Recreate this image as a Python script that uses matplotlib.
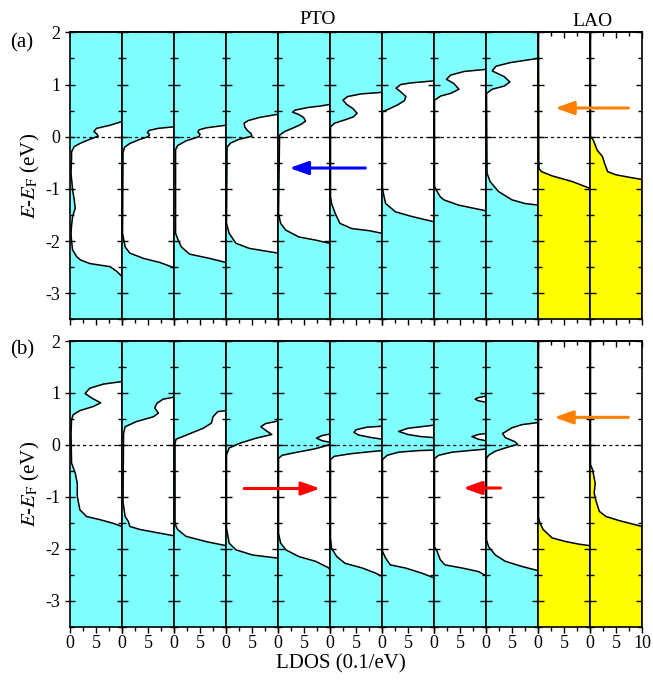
import matplotlib
matplotlib.use('Agg')
import matplotlib.pyplot as plt
from matplotlib.patches import ConnectionPatch
from matplotlib.ticker import MultipleLocator

plt.rcParams['font.family'] = 'Liberation Serif'
plt.rcParams['mathtext.fontset'] = 'stix'
plt.rcParams['axes.unicode_minus'] = False

# ---- LDOS curves: energy (eV) and LDOS (0.1/eV), clipped at 10 ----
# row (a)
a0_E = [-3.5, -2.68, -2.58, -2.49, -2.43, -2.36, -2.3, -2.17, -2.0, -1.85, -1.7, -1.53, -1.37, -1.2, -1.02, -0.7, -0.4,
        -0.29, -0.19, -0.13, -0.05, 0.01, 0.05, 0.1, 0.16, 0.22, 0.29, 2.0]
a0_x = [10, 10, 9.0, 7.7, 3.8, 2.0, 1.3, 0.5, 0.3, 0.2, 0.3, 0.5, 1.0, 0.8, 0.5, 0.2, 0.3,
        0.3, 0.8, 1.9, 3.8, 5.4, 5.2, 4.6, 5.1, 7.7, 10, 10]
a1_E = [-3.5, -2.51, -2.41, -2.33, -2.23, -2.11, -1.85, -0.3, -0.2, -0.13, -0.06, 0.0, 0.04, 0.08, 0.12, 0.16, 0.19, 2.0]
a1_x = [10, 10, 7.3, 4.1, 1.5, 0.6, 0.1, 0.2, 0.5, 1.5, 3.2, 5.0, 5.3, 4.9, 5.2, 7.0, 10, 10]
a2_E = [-3.5, -2.41, -2.33, -2.25, -2.11, -1.98, -1.85, -0.25, -0.17, -0.08, 0.0, 0.05, 0.09, 0.13, 0.17, 0.22, 2.0]
a2_x = [10, 10, 6.8, 3.0, 1.4, 0.8, 0.3, 0.3, 0.7, 2.3, 4.8, 5.0, 4.6, 4.8, 6.2, 10, 10]
a3_E = [-3.5, -2.23, -2.14, -2.04, -1.85, -1.66, -0.2, -0.12, -0.05, 0.01, 0.06, 0.12, 0.19, 0.26, 0.31, 0.37, 0.43, 2.0]
a3_x = [10, 10, 4.5, 1.9, 0.6, 0.1, 0.2, 0.9, 2.5, 5.0, 4.8, 4.1, 3.6, 3.5, 4.3, 6.5, 10, 10]
a4_E = [-3.5, -2.07, -2.04, -1.98, -1.92, -1.79, -1.66, -1.47, 0.03, 0.1, 0.18, 0.24, 0.3, 0.37, 0.43, 0.47, 0.51, 0.56,
        0.59, 0.62, 2.0]
a4_x = [10, 10, 9.8, 7.2, 4.0, 1.5, 0.5, 0.1, 0.3, 1.3, 3.2, 4.5, 5.3, 4.9, 3.9, 2.8, 3.3, 5.8,
        8.3, 10, 10]
a5_E = [-3.5, -1.85, -1.8, -1.76, -1.66, -1.47, -1.28, -1.15, 0.19, 0.26, 0.32, 0.38, 0.45, 0.54, 0.62, 0.7, 0.77, 0.82,
        0.85, 2.0]
a5_x = [10, 10, 7.5, 4.2, 1.9, 1.0, 0.3, 0.1, 0.1, 0.9, 2.8, 4.5, 5.2, 4.4, 3.2, 2.5, 3.4, 6.0,
        10, 10]
a6_E = [-3.5, -1.63, -1.53, -1.44, -1.28, -1.15, -0.99, 0.48, 0.52, 0.61, 0.69, 0.77, 0.86, 0.93, 1.0, 1.03, 1.07, 2.0]
a6_x = [10, 10, 5.8, 2.6, 0.7, 0.4, 0.1, 0.1, 1.1, 3.0, 4.3, 4.6, 3.6, 2.7, 3.6, 5.5, 10, 10]
a7_E = [-3.5, -1.42, -1.31, -1.21, -1.15, -1.05, -0.95, 0.7, 0.78, 0.83, 0.91, 1.02, 1.1, 1.18, 1.25, 1.29, 2.0]
a7_x = [10, 10, 4.7, 1.9, 1.2, 0.6, 0.1, 0.1, 1.3, 3.2, 4.8, 3.8, 2.4, 3.2, 5.8, 10, 10]
a8_E = [-3.5, -1.31, -1.28, -1.21, -1.05, -0.86, -0.7, 0.83, 0.91, 0.97, 1.05, 1.15, 1.26, 1.35, 1.42, 1.5, 2.0]
a8_x = [10, 10, 7.5, 5.0, 2.4, 0.8, 0.2, 0.1, 1.2, 3.5, 4.6, 3.5, 1.2, 1.9, 4.7, 10, 10]
a9_E = [-3.5, -0.99, -0.86, -0.75, -0.67, -0.61, -0.45, 2.0]
a9_x = [10, 10, 6.6, 2.7, 0.7, 0.2, 0.15, 0.1]
a10_E = [-3.5, -0.82, -0.78, -0.73, -0.67, -0.51, -0.38, -0.26, -0.06, 0.0, 2.0]
a10_x = [10, 10, 7.7, 5.0, 3.4, 2.8, 2.4, 1.4, 0.6, 0.1, 0.1]

# row (b)
b0_E = [-3.5, -1.57, -1.51, -1.44, -1.38, -1.25, -0.99, -0.74, -0.54, -0.35, 0.22, 0.48, 0.58, 0.66, 0.74, 0.81, 0.9,
        0.99, 1.09, 1.17, 1.22, 2.0]
b0_x = [10, 10, 8.3, 5.8, 3.2, 1.9, 1.4, 1.4, 1.0, 0.3, 0.2, 0.3, 0.6, 1.9, 4.5, 5.9, 4.2,
        2.9, 3.8, 6.4, 10, 10]
b1_E = [-3.5, -1.75, -1.7, -1.63, -1.57, -1.47, -1.38, -1.1, 0.22, 0.35, 0.45, 0.54, 0.61, 0.71, 0.8, 0.88, 0.92, 2.0]
b1_x = [10, 10, 7.3, 3.5, 1.5, 1.2, 0.6, 0.2, 0.3, 0.6, 2.8, 6.0, 7.0, 6.3, 6.7, 7.9, 10, 10]
b2_E = [-3.5, -1.94, -1.86, -1.76, -1.63, -1.57, -1.5, 0.03, 0.11, 0.19, 0.32, 0.42, 0.54, 0.64, 0.66, 2.0]
b2_x = [10, 10, 6.1, 2.3, 0.7, 0.4, 0.2, 0.2, 0.4, 2.4, 5.6, 7.2, 7.5, 8.4, 10, 10]
b3_E = [-3.5, -2.18, -2.12, -2.02, -1.89, -1.6, -0.19, -0.06, 0.03, 0.13, 0.2, 0.27, 0.35, 0.41, 0.46, 2.0]
b3_x = [10, 10, 5.1, 1.9, 0.6, 0.1, 0.1, 0.6, 2.6, 5.8, 8.8, 7.8, 6.7, 7.6, 10, 10]
b4_E = [-3.5, -2.42, -2.37, -2.24, -2.15, -2.02, -1.89, -1.7, -0.26, -0.2, -0.14, -0.08, -0.03, 0.01, 0.05, 0.08, 0.13,
        0.18, 0.21, 2.0]
b4_x = [10, 10, 9.8, 7.2, 4.0, 1.5, 0.5, 0.1, 0.1, 0.8, 3.7, 6.9, 8.8, 10, 10, 8.5, 7.4,
        8.5, 10, 10]
b5_E = [-3.5, -2.53, -2.47, -2.37, -2.28, -2.15, -1.99, -1.79, -0.28, -0.22, -0.17, -0.13, -0.11, 0.11, 0.14, 0.19, 0.24,
        0.29, 0.34, 0.36, 2.0]
b5_x = [10, 10, 8.8, 6.2, 2.9, 1.3, 0.3, 0.1, 0.1, 0.8, 4.0, 7.8, 10, 10, 8.0, 5.5, 4.6,
        5.0, 7.0, 10, 10]
b6_E = [-3.5, -2.56, -2.47, -2.37, -2.31, -2.18, -2.05, -0.28, -0.2, -0.14, -0.11, -0.1, 0.14, 0.16, 0.2, 0.26, 0.32,
        0.35, 0.38, 2.0]
b6_x = [10, 10, 7.7, 4.5, 1.6, 0.7, 0.1, 0.1, 1.0, 3.2, 7.0, 10, 10, 7.5, 5.0, 3.2, 5.0,
        7.5, 10, 10]
b7_E = [-3.5, -2.52, -2.44, -2.37, -2.31, -2.21, -2.05, -1.96, -0.26, -0.2, -0.14, -0.11, -0.08, 0.08, 0.11, 0.16, 0.2,
        0.22, 0.82, 0.85, 0.88, 0.91, 0.94, 2.0]
b7_x = [10, 10, 8.6, 5.4, 2.1, 1.2, 0.6, 0.1, 0.1, 0.9, 3.5, 6.7, 10, 10, 8.5, 7.3, 8.5,
        10, 10, 8.5, 7.9, 8.5, 10, 10]
b8_E = [-3.5, -2.42, -2.34, -2.24, -2.12, -1.96, -1.83, -0.26, -0.2, -0.12, -0.04, 0.01, 0.06, 0.14, 0.22, 0.33, 0.39,
        0.43, 2.0]
b8_x = [10, 10, 6.9, 3.7, 1.8, 0.5, 0.1, 0.1, 0.5, 1.8, 4.3, 6.1, 5.6, 3.7, 3.2, 5.0, 6.9,
        10, 10]
b9_E = [-3.5, -1.94, -1.91, -1.86, -1.79, -1.63, -1.51, -1.4, 2.0]
b9_x = [10, 10, 7.8, 5.3, 2.7, 1.0, 0.4, 0.1, 0.1]
b10_E = [-3.5, -1.57, -1.46, -1.38, -1.28, -1.06, -0.93, -0.74, -0.48, -0.38, 2.0]
b10_x = [10, 10, 5.7, 3.1, 1.8, 1.1, 0.8, 1.0, 0.5, 0.1, 0.1]

row_a = [(a0_E, a0_x), (a1_E, a1_x), (a2_E, a2_x), (a3_E, a3_x), (a4_E, a4_x), (a5_E, a5_x),
         (a6_E, a6_x), (a7_E, a7_x), (a8_E, a8_x), (a9_E, a9_x), (a10_E, a10_x)]
row_b = [(b0_E, b0_x), (b1_E, b1_x), (b2_E, b2_x), (b3_E, b3_x), (b4_E, b4_x), (b5_E, b5_x),
         (b6_E, b6_x), (b7_E, b7_x), (b8_E, b8_x), (b9_E, b9_x), (b10_E, b10_x)]
materials = ['PTO'] * 9 + ['LAO'] * 2

# arrows: (row, panel_from, x_from, panel_to, x_to, energy, colour)
arrows = [(0, 5, 6.8, 4, 2.2, -0.6, '#0000ff'),
          (0, 10, 7.4, 9, 3.3, 0.55, '#ff8000'),
          (1, 3, 3.5, 4, 8.1, -0.84, '#ff0000'),
          (1, 8, 2.8, 7, 5.6, -0.83, '#ff0000'),
          (1, 10, 7.4, 9, 3.1, 0.53, '#ff8000')]

colors = {'PTO': '#80ffff', 'LAO': '#ffff00'}

W, H = 653, 680
fig = plt.figure(figsize=(W / 100, H / 100), dpi=100)

left = 70 / W
pw = 52 / W
row_geom = [(1 - 319.4 / H, (319.4 - 32.3) / H), (1 - 626.7 / H, (626.7 - 341) / H)]

axes = []
for r, row in enumerate([row_a, row_b]):
    bottom, height = row_geom[r]
    row_axes = []
    for i, (E, x) in enumerate(row):
        ax = fig.add_axes([left + i * pw, bottom, pw, height])
        ax.fill_betweenx(E, 0, x, color=colors[materials[i]], lw=0)
        ax.plot(x, E, color='k', lw=1.1, solid_joinstyle='round')
        ax.axhline(0, color='k', lw=0.9, ls=(0, (2.5, 2.5)))
        ax.set_xlim(0, 10)
        ax.set_ylim(-3.5, 2)
        for s in ax.spines.values():
            s.set_linewidth(1.2)

        ax.yaxis.set_major_locator(MultipleLocator(1))
        ax.yaxis.set_minor_locator(MultipleLocator(0.5))
        ax.tick_params(axis='y', which='both', direction='in', left=True, right=True,
                       labelleft=(i == 0), labelsize=13, width=1)
        ax.tick_params(axis='y', which='major', length=4)
        ax.tick_params(axis='y', which='minor', length=3)
        if i == 0:
            ax.tick_params(axis='y', which='major', direction='inout', length=7)

        ax.set_xticks([0, 5, 10])
        ax.set_xticks([2.5, 7.5], minor=True)
        ax.set_xticklabels(['0', '5', '10' if i == 10 else ''])
        ax.tick_params(axis='x', which='both', direction='out', top=False,
                       labelbottom=(r == 1), labelsize=13, width=1, pad=2)
        ax.tick_params(axis='x', which='major', length=4)
        ax.tick_params(axis='x', which='minor', length=3)
        sec = ax.secondary_xaxis('top')
        sec.set_xticks([0, 5, 10])
        sec.set_xticks([2.5, 7.5], minor=True)
        sec.tick_params(axis='x', which='both', direction='in', labeltop=False, width=1)
        sec.tick_params(axis='x', which='major', length=4)
        sec.tick_params(axis='x', which='minor', length=3)
        sec.spines['top'].set_linewidth(1.2)
        row_axes.append(ax)
    row_axes[0].set_ylabel('$E$-$E_{\\rm F}$ (eV)', fontsize=15, labelpad=2)
    axes.append(row_axes)

for r, p0, x0, p1, x1, e, c in arrows:
    arr = ConnectionPatch(xyA=(x0, e), coordsA=axes[r][p0].transData,
                          xyB=(x1, e), coordsB=axes[r][p1].transData,
                          arrowstyle='-|>,head_length=0.7,head_width=0.25',
                          mutation_scale=16, color=c, lw=2.2)
    fig.add_artist(arr)

fig.text(22 / W, 1 - 43 / H, '(a)', fontsize=15, ha='center', va='center')
fig.text(22 / W, 1 - 350 / H, '(b)', fontsize=15, ha='center', va='center')
fig.text(318 / W, 1 - 20 / H, 'PTO', fontsize=14, ha='center', va='center')
fig.text(592 / W, 1 - 22 / H, 'LAO', fontsize=14, ha='center', va='center')
fig.text(341 / W, 1 - 664 / H, 'LDOS (0.1/eV)', fontsize=15, ha='center', va='center')

fig.savefig('out.png', dpi=100)
